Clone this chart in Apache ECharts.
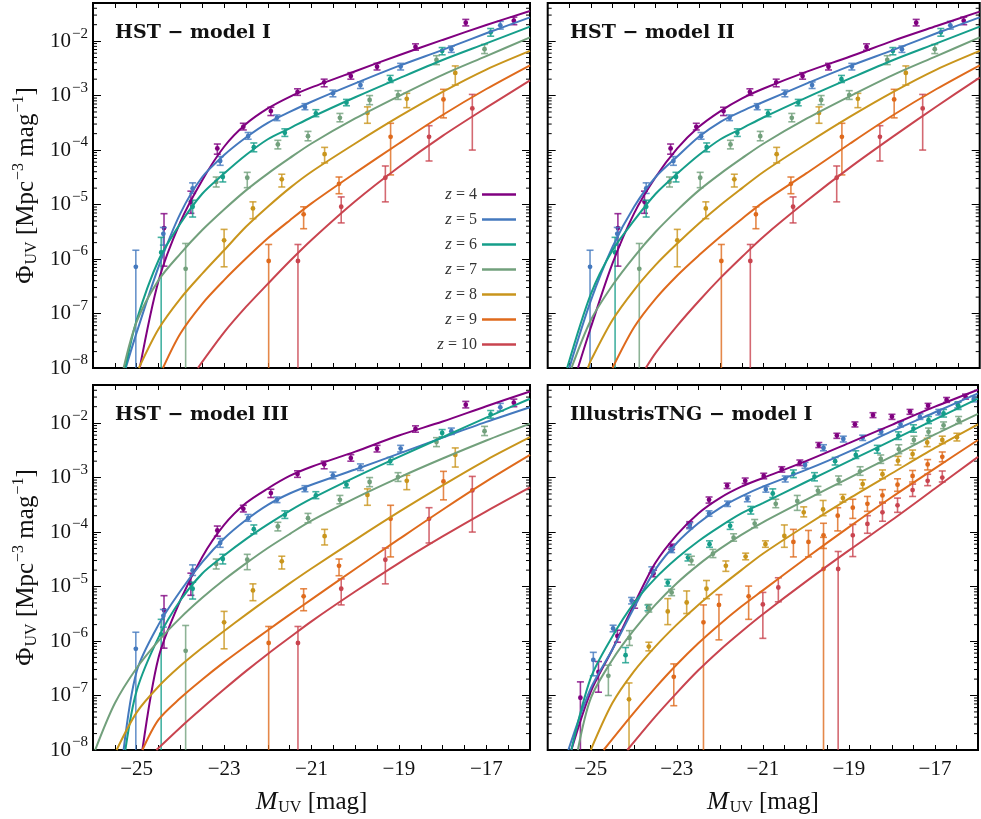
<!DOCTYPE html>
<html><head><meta charset="utf-8">
<script src="https://cdn.jsdelivr.net/npm/echarts@6/dist/echarts.min.js"></script>
<style>html,body{margin:0;padding:0;background:#fff}#c{width:981px;height:819px}</style>
</head><body><div id="c"></div>
<script>
// ---------------- labels ----------------
const zNames = ['z4','z5','z6','z7','z8','z9','z10'];
const zLegend = ['4','5','6','7','8','9','10'];
const panelTitles = ['HST \u2212 model I','HST \u2212 model II','HST \u2212 model III','IllustrisTNG \u2212 model I'];
const xTickLabels = [-25,-23,-21,-19,-17];

// ---------------- model curves [M_UV, Phi] ----------------
// Panel 1: HST - model I
const m1_z4 = [[-24.93,1e-8],[-24.5,4.0e-7],[-24,4.8e-6],[-23.5,2.8e-5],[-23,1.15e-4],[-22.5,3.0e-4],[-22,5.8e-4],[-21.5,9.5e-4],[-21,1.41e-3],[-20,2.8e-3],[-19,5.5e-3],[-18,1.05e-2],[-17,1.97e-2],[-16,3.56e-2]];
const m1_z5 = [[-25.25,1e-8],[-25,4.5e-8],[-24.5,7.2e-7],[-24,6.9e-6],[-23.5,3.2e-5],[-23,8.1e-5],[-22.5,1.7e-4],[-22,3.16e-4],[-21.5,5.0e-4],[-21,7.7e-4],[-20,1.67e-3],[-19,3.5e-3],[-18,6.9e-3],[-17,1.39e-2],[-16,2.73e-2]];
const m1_z6 = [[-25.26,1e-8],[-25,7.6e-8],[-24.5,9.5e-7],[-24,4.5e-6],[-23.5,1.58e-5],[-23,3.7e-5],[-22.5,8.1e-5],[-22,1.58e-4],[-21.5,2.5e-4],[-21,4.0e-4],[-20,9.3e-4],[-19,2.07e-3],[-18,4.5e-3],[-17,9.1e-3],[-16,1.84e-2]];
const m1_z7 = [[-25.3,1e-8],[-25,7.1e-8],[-24.5,4.1e-7],[-24,1.26e-6],[-23.5,3.4e-6],[-23,8.1e-6],[-22.5,1.82e-5],[-22,3.7e-5],[-21.5,7.1e-5],[-21,1.32e-4],[-20,3.8e-4],[-19,9.8e-4],[-18,2.4e-3],[-17,5.3e-3],[-16,1.17e-2]];
const m1_z8 = [[-24.95,1e-8],[-24.5,5.2e-8],[-24,1.88e-7],[-23.5,5.4e-7],[-23,1.45e-6],[-22.5,3.9e-6],[-22,9.1e-6],[-21.5,2.0e-5],[-21,4.0e-5],[-20,1.32e-4],[-19,4.1e-4],[-18,1.17e-3],[-17,3.0e-3],[-16,6.6e-3]];
const m1_z9 = [[-24.4,1e-8],[-24,4.3e-8],[-23.5,1.51e-7],[-23,4.1e-7],[-22.5,1.02e-6],[-22,2.4e-6],[-21.5,5.1e-6],[-21,1.05e-5],[-20,3.8e-5],[-19,1.32e-4],[-18,4.4e-4],[-17,1.32e-3],[-16,3.6e-3]];
const m1_z10 = [[-23.6,1e-8],[-23,4.5e-8],[-22.5,1.32e-7],[-22,3.5e-7],[-21.5,9.1e-7],[-21,2.24e-6],[-20,1.15e-5],[-19,4.9e-5],[-18,1.82e-4],[-17,6.0e-4],[-16,1.9e-3]];
// Panel 2: HST - model II
const m2_z4 = [[-25.3,1e-8],[-25,5.6e-8],[-24.5,8.3e-7],[-24,6.9e-6],[-23.5,3.2e-5],[-23,1.07e-4],[-22.5,2.67e-4],[-22,5.2e-4],[-21.5,8.9e-4],[-21,1.35e-3],[-20,2.75e-3],[-19,5.2e-3],[-18,1.02e-2],[-17,1.89e-2],[-16,3.47e-2]];
const m2_z5 = [[-25.5,1e-8],[-25,1.74e-7],[-24.5,1.66e-6],[-24,9.1e-6],[-23.5,3.2e-5],[-23,7.6e-5],[-22.5,1.75e-4],[-22,3.3e-4],[-21.5,5.2e-4],[-21,7.7e-4],[-20,1.67e-3],[-19,3.5e-3],[-18,6.9e-3],[-17,1.39e-2],[-16,2.73e-2]];
const m2_z6 = [[-25.55,1e-8],[-25,2.3e-7],[-24.5,1.45e-6],[-24,5.1e-6],[-23.5,1.58e-5],[-23,3.7e-5],[-22.5,8.1e-5],[-22,1.58e-4],[-21.5,2.5e-4],[-21,4.0e-4],[-20,9.3e-4],[-19,2.07e-3],[-18,4.5e-3],[-17,9.1e-3],[-16,1.84e-2]];
const m2_z7 = [[-25.45,1e-8],[-25,7.6e-8],[-24.5,3.3e-7],[-24,1.1e-6],[-23.5,3.16e-6],[-23,7.9e-6],[-22.5,1.82e-5],[-22,3.7e-5],[-21.5,7.1e-5],[-21,1.32e-4],[-20,3.8e-4],[-19,9.8e-4],[-18,2.4e-3],[-17,5.3e-3],[-16,1.17e-2]];
const m2_z8 = [[-25.07,1e-8],[-25,1.38e-8],[-24.5,7.6e-8],[-24,2.7e-7],[-23.5,7.8e-7],[-23,1.93e-6],[-22.5,4.5e-6],[-22,9.8e-6],[-21.5,2.0e-5],[-21,4.0e-5],[-20,1.32e-4],[-19,4.1e-4],[-18,1.17e-3],[-17,3.0e-3],[-16,6.6e-3]];
const m2_z9 = [[-24.5,1e-8],[-24,5.6e-8],[-23.5,1.88e-7],[-23,5.0e-7],[-22.5,1.17e-6],[-22,2.6e-6],[-21.5,5.5e-6],[-21,1.12e-5],[-20,3.8e-5],[-19,1.32e-4],[-18,4.4e-4],[-17,1.32e-3],[-16,3.6e-3]];
const m2_z10 = [[-23.73,1e-8],[-23.5,1.9e-8],[-23,6.0e-8],[-22.5,1.7e-7],[-22,4.5e-7],[-21.5,1.1e-6],[-21,2.6e-6],[-20,1.17e-5],[-19,4.8e-5],[-18,1.78e-4],[-17,6.3e-4],[-16,2.14e-3]];
// Panel 3: HST - model III
const m3_z4 = [[-24.87,1e-8],[-24.5,5.0e-7],[-24,5.6e-6],[-23.5,3.5e-5],[-23,1.35e-4],[-22.5,3.4e-4],[-22,6.3e-4],[-21.5,1.07e-3],[-21,1.58e-3],[-20,3.0e-3],[-19,5.9e-3],[-18,1.07e-2],[-17,2.04e-2],[-16,3.8e-2]];
const m3_z5 = [[-25.3,1e-8],[-25,2.8e-7],[-24.5,2.0e-6],[-24,8.3e-6],[-23.5,2.8e-5],[-23,7.6e-5],[-22.5,1.66e-4],[-22,3.16e-4],[-21.5,5.1e-4],[-21,7.4e-4],[-20,1.41e-3],[-19,2.75e-3],[-18,5.4e-3],[-17,1.05e-2],[-16,1.95e-2]];
const m3_z6 = [[-25.26,1e-8],[-25,1.23e-7],[-24.5,1.17e-6],[-24,5.6e-6],[-23.5,1.74e-5],[-23,3.7e-5],[-22.5,7.4e-5],[-22,1.38e-4],[-21.5,2.45e-4],[-21,4.1e-4],[-20,1.02e-3],[-19,2.4e-3],[-18,5.5e-3],[-17,1.26e-2],[-16,2.8e-2]];
const m3_z7 = [[-25.95,1e-8],[-25.5,7.2e-8],[-25,3.2e-7],[-24.5,1.01e-6],[-24,2.66e-6],[-23.5,6.2e-6],[-23,1.33e-5],[-22.5,2.66e-5],[-22,5.1e-5],[-21.5,9.2e-5],[-21,1.62e-4],[-20,4.2e-4],[-19,1.0e-3],[-18,2.24e-3],[-17,4.8e-3],[-16,9.8e-3]];
const m3_z8 = [[-25.46,1e-8],[-25,4.9e-8],[-24.5,1.46e-7],[-24,3.5e-7],[-23.5,7.5e-7],[-23,1.53e-6],[-22.5,3.05e-6],[-22,5.96e-6],[-21.5,1.14e-5],[-21,2.14e-5],[-20,7.2e-5],[-19,2.34e-4],[-18,7.2e-4],[-17,2.1e-3],[-16,5.5e-3]];
const m3_z9 = [[-24.87,1e-8],[-24.5,3.6e-8],[-24,9.0e-8],[-23.5,1.97e-7],[-23,4.1e-7],[-22.5,8.1e-7],[-22,1.58e-6],[-21.5,3.05e-6],[-21,5.8e-6],[-20,2.1e-5],[-19,7.4e-5],[-18,2.57e-4],[-17,8.5e-4],[-16,2.6e-3]];
const m3_z10 = [[-24.55,1e-8],[-24,2.6e-8],[-23.5,5.9e-8],[-23,1.3e-7],[-22.5,2.8e-7],[-22,5.8e-7],[-21.5,1.16e-6],[-21,2.3e-6],[-20,8.1e-6],[-19,2.7e-5],[-18,8.3e-5],[-17,2.4e-4],[-16,6.6e-4]];
// Panel 4: IllustrisTNG - model I
const m4_z4 = [[-25.45,1e-8],[-25,1.17e-7],[-24.5,6.9e-7],[-24,4.6e-6],[-23.5,2.7e-5],[-23,8.9e-5],[-22.5,2.2e-4],[-22,4.2e-4],[-21.5,6.8e-4],[-21,9.8e-4],[-20,2.0e-3],[-19,4.3e-3],[-18,9.3e-3],[-17,2.0e-2],[-16,4.1e-2]];
const m4_z5 = [[-25.52,1e-8],[-25,1.35e-7],[-24.5,6.9e-7],[-24,4.0e-6],[-23.5,2.04e-5],[-23,6.3e-5],[-22.5,1.45e-4],[-22,2.75e-4],[-21.5,4.5e-4],[-21,6.8e-4],[-20,1.38e-3],[-19,3.0e-3],[-18,7.1e-3],[-17,1.58e-2],[-16,3.5e-2]];
const m4_z6 = [[-25.45,1e-8],[-25,2.1e-7],[-24.5,1.2e-6],[-24,4.9e-6],[-23.5,1.41e-5],[-23,3.3e-5],[-22.5,6.8e-5],[-22,1.26e-4],[-21.5,2.2e-4],[-21,3.4e-4],[-20,8.3e-4],[-19,2.0e-3],[-18,4.8e-3],[-17,1.17e-2],[-16,2.8e-2]];
const m4_z7 = [[-25.3,1e-8],[-25,8.9e-8],[-24.5,4.5e-7],[-24,1.58e-6],[-23.5,4.6e-6],[-23,1.15e-5],[-22.5,2.5e-5],[-22,4.9e-5],[-21.5,8.9e-5],[-21,1.51e-4],[-20,3.9e-4],[-19,9.8e-4],[-18,2.45e-3],[-17,6.2e-3],[-16,1.48e-2]];
const m4_z8 = [[-25.0,1e-8],[-24.5,7.2e-8],[-24,2.75e-7],[-23.5,7.9e-7],[-23,2.0e-6],[-22.5,4.6e-6],[-22,9.8e-6],[-21.5,2.0e-5],[-21,4.0e-5],[-20,1.32e-4],[-19,4.1e-4],[-18,1.2e-3],[-17,3.5e-3],[-16,9.5e-3]];
const m4_z9 = [[-24.7,1e-8],[-24,4.8e-8],[-23.5,1.38e-7],[-23,3.7e-7],[-22.5,9.1e-7],[-22,2.04e-6],[-21.5,4.3e-6],[-21,8.5e-6],[-20,3.3e-5],[-19,1.23e-4],[-18,4.4e-4],[-17,1.48e-3],[-16,4.9e-3]];
const m4_z10 = [[-24.15,1e-8],[-23.5,4.1e-8],[-23,1.12e-7],[-22.5,2.9e-7],[-22,6.8e-7],[-21.5,1.48e-6],[-21,3.1e-6],[-20,1.23e-5],[-19,4.6e-5],[-18,1.66e-4],[-17,6.3e-4],[-16,2.4e-3]];

// ---------------- data points [M_UV, Phi, Phi_low, Phi_high] ----------------
// HST observations (same in panels 1-3)
const hst_z4 = [[-24.375,3.7e-6,7.4e-7,6.8e-6],[-23.76,1.12e-5,6.9e-6,1.76e-5],[-23.155,1.07e-4,8.4e-5,1.29e-4],[-22.56,2.67e-4,2.34e-4,3.1e-4],[-21.93,5.2e-4,4.3e-4,6.1e-4],[-21.32,1.16e-3,1.01e-3,1.33e-3],[-20.71,1.75e-3,1.45e-3,2.0e-3],[-20.10,2.28e-3,2.0e-3,2.63e-3],[-19.50,3.38e-3,2.95e-3,3.9e-3],[-18.62,7.8e-3,6.8e-3,8.9e-3],[-17.47,2.17e-2,1.9e-2,2.5e-2],[-16.37,2.37e-2,2.0e-2,2.75e-2]];
const hst_z5 = [[-25.02,7.2e-7,1e-9,1.45e-6],[-24.39,2.9e-6,1.8e-6,3.8e-6],[-23.72,1.97e-5,1.6e-5,2.5e-5],[-23.09,6.3e-5,5.25e-5,7.6e-5],[-22.45,1.8e-4,1.58e-4,2.1e-4],[-21.79,3.9e-4,3.47e-4,4.4e-4],[-21.15,6.2e-4,5.5e-4,7.1e-4],[-20.51,1.1e-3,9.5e-4,1.26e-3],[-19.88,1.56e-3,1.35e-3,1.78e-3],[-18.96,3.4e-3,2.95e-3,3.9e-3],[-17.80,7.1e-3,6.2e-3,8.1e-3],[-16.68,1.95e-2,1.66e-2,2.3e-2]];
const hst_z6 = [[-24.44,1.32e-6,1e-9,2.5e-6],[-23.72,9.1e-6,5.9e-6,1.2e-5],[-23.03,3.2e-5,2.6e-5,3.9e-5],[-22.32,1.13e-4,9.3e-5,1.35e-4],[-21.61,2.07e-4,1.78e-4,2.45e-4],[-20.90,4.7e-4,4.1e-4,5.5e-4],[-20.20,7.4e-4,6.5e-4,8.5e-4],[-19.20,2.0e-3,1.74e-3,2.34e-3],[-18.01,6.6e-3,5.6e-3,7.6e-3],[-16.90,1.45e-2,1.23e-2,1.7e-2]];
const hst_z7 = [[-23.88,6.6e-7,1e-9,1.93e-6],[-23.18,2.6e-5,2.1e-5,3.2e-5],[-22.47,3.1e-5,2.04e-5,3.9e-5],[-21.77,1.27e-4,1.05e-4,1.51e-4],[-21.08,1.8e-4,1.48e-4,2.2e-4],[-20.35,3.9e-4,3.3e-4,4.7e-4],[-19.67,8.3e-4,6.8e-4,1.0e-3],[-19.02,1.02e-3,8.5e-4,1.23e-3],[-18.14,4.5e-3,3.7e-3,5.4e-3],[-17.04,7.1e-3,5.9e-3,8.7e-3]];
const hst_z8 = [[-23.00,2.2e-6,7.2e-7,3.5e-6],[-22.34,8.5e-6,5.5e-6,1.12e-5],[-21.68,2.9e-5,2.1e-5,3.6e-5],[-20.70,8.4e-5,5.8e-5,1.12e-4],[-19.72,4.8e-4,3.1e-4,6.2e-4],[-18.82,8.7e-4,6.0e-4,1.1e-3],[-17.71,2.6e-3,1.56e-3,3.5e-3]];
const hst_z9 = [[-21.98,9.2e-7,1e-9,1.85e-6],[-21.18,6.6e-6,3.6e-6,9.1e-6],[-20.37,2.4e-5,1.58e-5,3.2e-5],[-19.19,1.75e-4,3.5e-5,3.1e-4],[-17.98,8.5e-4,3.9e-4,1.3e-3]];
const hst_z10 = [[-21.31,9.2e-7,1e-9,1.85e-6],[-20.32,9.1e-6,4.6e-6,1.38e-5],[-19.31,3.1e-5,1.12e-5,5.1e-5],[-18.31,1.75e-4,6.3e-5,2.8e-4],[-17.32,5.8e-4,1.0e-4,1.05e-3]];
// IllustrisTNG (panel 4)
const tng_z4 = [[-25.24,9.1e-8,1e-9,1.78e-7],[-24.82,2.7e-7,1.15e-7,4.2e-7],[-24.38,1.24e-6,9.5e-7,1.58e-6],[-23.98,4.7e-6,4.0e-6,5.5e-6],[-23.54,1.74e-5,1.51e-5,2.0e-5],[-23.12,5.4e-5,4.8e-5,6.0e-5],[-22.70,1.37e-4,1.2e-4,1.55e-4],[-22.25,3.9e-4,3.4e-4,4.4e-4],[-21.83,7.1e-4,6.3e-4,7.9e-4],[-21.41,8.7e-4,7.8e-4,9.8e-4],[-20.98,1.07e-3,9.5e-4,1.2e-3],[-20.56,1.42e-3,1.26e-3,1.58e-3],[-20.14,1.87e-3,1.66e-3,2.1e-3],[-19.70,3.95e-3,3.55e-3,4.4e-3],[-19.28,5.9e-3,5.25e-3,6.5e-3],[-18.86,9.5e-3,8.5e-3,1.05e-2],[-18.44,1.4e-2,1.26e-2,1.55e-2],[-18.00,1.31e-2,1.17e-2,1.45e-2],[-17.58,1.62e-2,1.45e-2,1.78e-2],[-17.16,2.09e-2,1.86e-2,2.3e-2],[-16.73,2.65e-2,2.4e-2,2.95e-2],[-16.29,3.05e-2,2.75e-2,3.4e-2]];
const tng_z5 = [[-24.94,4.5e-7,2.3e-7,6.2e-7],[-24.48,1.7e-6,1.48e-6,1.95e-6],[-24.05,5.5e-6,4.8e-6,6.3e-6],[-23.58,2.0e-5,1.78e-5,2.3e-5],[-23.12,4.6e-5,4.2e-5,5.2e-5],[-22.70,1.3e-4,1.15e-4,1.48e-4],[-22.25,2.2e-4,1.95e-4,2.45e-4],[-21.82,3.3e-4,2.95e-4,3.7e-4],[-21.36,4.1e-4,3.6e-4,4.6e-4],[-20.93,6.1e-4,5.4e-4,6.9e-4],[-20.48,9.6e-4,8.3e-4,1.07e-3],[-20.02,1.7e-3,1.48e-3,1.9e-3],[-19.59,3.5e-3,3.1e-3,4.0e-3],[-19.13,5.1e-3,4.5e-3,5.75e-3],[-18.68,5.4e-3,4.8e-3,6.0e-3],[-18.25,6.9e-3,6.2e-3,7.8e-3],[-17.80,9.5e-3,8.5e-3,1.07e-2],[-17.35,1.3e-2,1.17e-2,1.48e-2],[-16.91,1.58e-2,1.41e-2,1.78e-2],[-16.47,2.15e-2,1.9e-2,2.4e-2],[-16.10,2.75e-2,2.45e-2,3.1e-2]];
const tng_z6 = [[-24.19,5.5e-7,4.0e-7,7.6e-7],[-23.67,4.1e-6,3.6e-6,4.6e-6],[-23.21,1.18e-5,1.02e-5,1.35e-5],[-22.74,3.4e-5,2.95e-5,3.9e-5],[-22.24,6.0e-5,5.25e-5,6.9e-5],[-21.76,1.3e-4,1.12e-4,1.51e-4],[-21.28,2.5e-4,2.14e-4,2.95e-4],[-20.77,5.1e-4,4.3e-4,6.2e-4],[-20.29,1.18e-3,1.0e-3,1.38e-3],[-19.80,1.04e-3,8.7e-4,1.23e-3],[-19.32,2.0e-3,1.7e-3,2.34e-3],[-18.84,2.6e-3,2.24e-3,3.1e-3],[-18.34,3.3e-3,2.8e-3,3.9e-3],[-17.85,5.9e-3,5.0e-3,6.9e-3],[-17.50,7.9e-3,6.8e-3,9.3e-3],[-17.15,1.13e-2,9.8e-3,1.32e-2],[-16.80,1.51e-2,1.29e-2,1.78e-2],[-16.46,2.1e-2,1.78e-2,2.45e-2]];
const tng_z7 = [[-24.59,2.3e-7,1.0e-7,3.6e-7],[-24.10,1.14e-6,8.3e-7,1.55e-6],[-23.65,4.0e-6,3.4e-6,4.7e-6],[-23.12,7.8e-6,6.8e-6,8.9e-6],[-22.66,3.0e-5,2.5e-5,3.6e-5],[-22.16,4.0e-5,3.4e-5,4.8e-5],[-21.68,7.9e-5,6.8e-5,9.3e-5],[-21.19,1.43e-4,1.2e-4,1.7e-4],[-20.70,3.3e-4,2.8e-4,4.0e-4],[-20.20,3.7e-4,2.5e-4,4.7e-4],[-19.72,5.7e-4,4.8e-4,6.9e-4],[-19.24,9.0e-4,7.4e-4,1.07e-3],[-18.74,1.3e-3,1.1e-3,1.58e-3],[-18.26,2.2e-3,1.82e-3,2.6e-3],[-17.84,3.3e-3,2.75e-3,4.0e-3],[-17.49,4.9e-3,4.2e-3,5.75e-3],[-17.15,6.9e-3,5.9e-3,8.1e-3],[-16.80,9.1e-3,7.9e-3,1.05e-2],[-16.45,1.13e-2,9.8e-3,1.32e-2]];
const tng_z8 = [[-24.11,8.5e-8,1e-9,1.7e-7],[-23.65,7.9e-7,6.6e-7,9.5e-7],[-23.21,3.5e-6,2.0e-6,6.0e-6],[-22.77,5.1e-6,3.2e-6,8.3e-6],[-22.31,9.1e-6,6.0e-6,1.29e-5],[-21.86,2.4e-5,1.9e-5,2.95e-5],[-21.40,3.55e-5,3.1e-5,4.1e-5],[-20.94,6.0e-5,5.25e-5,6.9e-5],[-20.50,8.5e-5,5.25e-5,1.35e-4],[-20.05,2.3e-4,1.9e-4,2.9e-4],[-19.60,2.6e-4,2.0e-4,3.8e-4],[-19.14,4.2e-4,3.55e-4,4.9e-4],[-18.68,7.6e-4,6.3e-4,9.1e-4],[-18.22,1.15e-3,9.5e-4,1.38e-3],[-17.86,2.04e-3,1.7e-3,2.45e-3],[-17.52,2.7e-3,2.24e-3,3.2e-3],[-17.18,4.4e-3,3.7e-3,5.25e-3],[-16.83,4.9e-3,4.2e-3,5.75e-3],[-16.49,5.5e-3,4.7e-3,6.5e-3]];
const tng_z9 = [[-23.07,2.2e-7,6.5e-8,3.8e-7],[-22.38,2.2e-6,1e-9,4.6e-6],[-22.02,4.6e-6,1.05e-6,7.1e-6],[-21.33,6.6e-6,2.5e-6,1.02e-5],[-20.29,6.6e-5,3.5e-5,1.12e-4],[-19.94,6.6e-5,3.5e-5,1.07e-4],[-19.59,8.7e-5,5.0e-5,1.45e-4],[-19.59,2.1e-5,1e-9,8.0e-5],[-19.26,2.0e-4,1.05e-4,2.8e-4],[-18.91,2.8e-4,1.78e-4,4.0e-4],[-18.57,3.3e-4,2.4e-4,4.5e-4],[-18.22,4.7e-4,3.55e-4,6.0e-4],[-17.87,7.4e-4,5.6e-4,9.5e-4],[-17.52,1.07e-3,8.3e-4,1.35e-3],[-17.17,1.74e-3,1.38e-3,2.14e-3],[-16.83,2.4e-3,1.95e-3,2.95e-3]];
const tng_z10 = [[-21.00,4.7e-6,1.12e-6,7.8e-6],[-20.64,9.6e-6,5.25e-6,1.45e-5],[-19.25,2.1e-5,1e-9,4.4e-5],[-18.91,8.7e-5,3.55e-5,1.38e-4],[-18.57,1.41e-4,9.5e-5,2.0e-4],[-18.22,2.3e-4,1.58e-4,3.4e-4],[-17.87,3.1e-4,2.3e-4,4.2e-4],[-17.52,5.9e-4,4.5e-4,7.6e-4],[-17.17,8.7e-4,7.1e-4,1.15e-3],[-16.83,1.0e-3,8.3e-4,1.32e-3]];

// ---------------- assembly ----------------
const panelCurves = [
  [m1_z4,m1_z5,m1_z6,m1_z7,m1_z8,m1_z9,m1_z10],
  [m2_z4,m2_z5,m2_z6,m2_z7,m2_z8,m2_z9,m2_z10],
  [m3_z4,m3_z5,m3_z6,m3_z7,m3_z8,m3_z9,m3_z10],
  [m4_z4,m4_z5,m4_z6,m4_z7,m4_z8,m4_z9,m4_z10]
];
const hstPoints = [hst_z4,hst_z5,hst_z6,hst_z7,hst_z8,hst_z9,hst_z10];
const tngPoints = [tng_z4,tng_z5,tng_z6,tng_z7,tng_z8,tng_z9,tng_z10];
const panelPoints = [hstPoints, hstPoints, hstPoints, tngPoints];

const COLORS = ['#800080','#4479be','#159e8a','#72a07c','#c9951c','#df6a1c','#c9444f'];
const SERIF = 'Liberation Serif';
const XMIN = -26, XMAX = -16, YMIN = 1e-8, YMAX = 0.05;

const grids = [
  {left: 93, top: 3, width: 437, height: 365},
  {left: 547.7, top: 3, width: 432, height: 365},
  {left: 93, top: 385, width: 437, height: 365},
  {left: 547.7, top: 385, width: 432, height: 365}
].map(g => Object.assign(g, {show: true, borderColor: '#000', borderWidth: 2, backgroundColor: 'transparent', containLabel: false}));

// minor ticks of the log axis (2..9 x 10^n)
const minorTickVals = [];
for (let e = -8; e <= -2; e++) for (let k = 2; k <= 9; k++) { const v = k * Math.pow(10, e); if (v < YMAX) minorTickVals.push([XMIN, v]); }

function yLabelFmt(v) {
  const e = Math.log10(v), r = Math.round(e);
  if (Math.abs(e - r) > 1e-6) return '';
  return '{b|10}{s|\u2212' + Math.abs(r) + '}';
}
function xLabelFmt(v) {
  const r = Math.round(v);
  if (Math.abs(v - r) > 1e-6 || xTickLabels.indexOf(r) < 0) return '';
  return (r < 0 ? '\u2212' : '') + Math.abs(r);
}

const xAxes = [], yAxes = [], series = [];
grids.forEach((g, i) => {
  const bottomRow = i >= 2, leftCol = (i % 2 === 0);
  xAxes.push({
    type: 'value', gridIndex: i, min: XMIN, max: XMAX, interval: 0.5, position: 'bottom',
    axisLine: {show: false}, splitLine: {show: false},
    axisTick: {show: true, inside: true, length: 5, lineStyle: {color: '#000', width: 1}},
    axisLabel: {show: bottomRow, formatter: xLabelFmt, fontFamily: SERIF, fontSize: 21, color: '#111', margin: 9, hideOverlap: false},
    name: bottomRow ? '{it|M}{sub|UV}{n| [mag]}' : '', nameLocation: 'middle', nameGap: 38,
    nameTextStyle: {fontFamily: SERIF, fontSize: 24, color: '#111', rich: {
      it: {fontFamily: SERIF, fontSize: 26, fontStyle: 'italic', color: '#111'},
      sub: {fontFamily: SERIF, fontSize: 16, color: '#111', padding: [12, 0, 0, 1]},
      n: {fontFamily: SERIF, fontSize: 25, color: '#111'}
    }}
  });
  xAxes.push({
    type: 'value', gridIndex: i, min: XMIN, max: XMAX, interval: 0.5, position: 'top',
    axisLine: {show: false}, splitLine: {show: false},
    axisTick: {show: true, inside: true, length: 5, lineStyle: {color: '#000', width: 1}},
    axisLabel: {show: false}
  });
  const yCommon = {
    type: 'log', logBase: 10, gridIndex: i, min: YMIN, max: YMAX,
    axisLine: {show: false}, splitLine: {show: false}, minorTick: {show: false},
    axisTick: {show: true, inside: true, length: 8, lineStyle: {color: '#000', width: 1}}
  };
  yAxes.push(Object.assign({}, yCommon, {
    position: 'left',
    axisLabel: {show: leftCol, formatter: yLabelFmt, margin: 5, showMaxLabel: false, rich: {
      b: {fontFamily: SERIF, fontSize: 21, color: '#111'},
      s: {fontFamily: SERIF, fontSize: 15, color: '#111', padding: [0, 0, 15, 1]}
    }},
    name: leftCol ? '{n|\u03A6}{sub|UV}{n| [Mpc}{sup|\u22123}{n| mag}{sup|\u22121}{n|]}' : '',
    nameLocation: 'middle', nameRotate: 90, nameGap: 52,
    nameTextStyle: {fontFamily: SERIF, fontSize: 25, color: '#111', rich: {
      n: {fontFamily: SERIF, fontSize: 25, color: '#111'},
      sub: {fontFamily: SERIF, fontSize: 16, color: '#111', padding: [12, 0, 0, 1]},
      sup: {fontFamily: SERIF, fontSize: 16, color: '#111', padding: [0, 0, 14, 1]}
    }}
  }));
  yAxes.push(Object.assign({}, yCommon, {position: 'right', axisLabel: {show: false}}));

  const xi = 2 * i, yi = 2 * i;
  // minor ticks
  series.push({
    type: 'custom', xAxisIndex: xi, yAxisIndex: yi, silent: true, z: 1,
    data: minorTickVals, encode: {x: 0, y: 1},
    renderItem: function (params, api) {
      const v = api.value(1);
      const pl = api.coord([XMIN, v]), pr = api.coord([XMAX, v]);
      return {type: 'group', children: [
        {type: 'line', shape: {x1: pl[0], y1: pl[1], x2: pl[0] + 4, y2: pl[1]}, style: {stroke: '#000', lineWidth: 1}},
        {type: 'line', shape: {x1: pr[0] - 4, y1: pr[1], x2: pr[0], y2: pr[1]}, style: {stroke: '#000', lineWidth: 1}}
      ]};
    }
  });
  // data points with error bars
  panelPoints[i].forEach((pts, k) => {
    const col = COLORS[k];
    series.push({
      type: 'custom', name: 'pts_' + zNames[k], xAxisIndex: xi, yAxisIndex: yi, silent: true, z: 2, clip: true,
      data: pts, encode: {x: 0, y: 1},
      renderItem: function (params, api) {
        const x = api.value(0), y = api.value(1), lo = api.value(2), hi = api.value(3);
        const p = api.coord([x, y]), pl = api.coord([x, lo]), ph = api.coord([x, hi]);
        const w = 3.5;
        const st = {stroke: col, lineWidth: 1.6, opacity: 0.8};
        return {type: 'group', children: [
          {type: 'line', shape: {x1: p[0], y1: ph[1], x2: p[0], y2: pl[1]}, style: st},
          {type: 'line', shape: {x1: p[0] - w, y1: ph[1], x2: p[0] + w, y2: ph[1]}, style: st},
          {type: 'line', shape: {x1: p[0] - w, y1: pl[1], x2: p[0] + w, y2: pl[1]}, style: st},
          {type: 'circle', shape: {cx: p[0], cy: p[1], r: 2.4}, style: {fill: col}}
        ]};
      }
    });
  });
  // model curves
  panelCurves[i].forEach((cv, k) => {
    series.push({
      type: 'line', name: zNames[k], xAxisIndex: xi, yAxisIndex: yi, data: cv,
      symbol: 'none', showSymbol: false, smooth: 0.3, clip: true, silent: true, z: 3,
      color: COLORS[k], lineStyle: {color: COLORS[k], width: 2}
    });
  });
});

const titles = [
  {text: panelTitles[0], left: 115, top: 24},
  {text: panelTitles[1], left: 570, top: 24},
  {text: panelTitles[2], left: 115, top: 406},
  {text: panelTitles[3], left: 570, top: 406}
].map(t => Object.assign(t, {padding: 0, textStyle: {fontFamily: 'DejaVu Serif', fontWeight: 'bold', fontSize: 19, color: '#111'}}));

const chart = echarts.init(document.getElementById('c'), null, {renderer: 'canvas'});
chart.setOption({
  animation: false,
  backgroundColor: '#fff',
  title: titles,
  grid: grids,
  xAxis: xAxes,
  yAxis: yAxes,
  legend: {
    data: zNames, orient: 'vertical', right: 981 - 516, top: 186, align: 'right', padding: 0,
    icon: 'rect', itemWidth: 34, itemHeight: 2.5, itemGap: 8, selectedMode: false,
    formatter: function (name) { return '{i|z}{t| = ' + zLegend[zNames.indexOf(name)] + '}'; },
    textStyle: {fontFamily: SERIF, fontSize: 16, color: '#333', lineHeight: 14, rich: {
      i: {fontFamily: SERIF, fontSize: 17, fontStyle: 'italic', color: '#333', lineHeight: 14},
      t: {fontFamily: SERIF, fontSize: 16, color: '#333', lineHeight: 14}
    }}
  },
  series: series
});
</script>
</body></html>
